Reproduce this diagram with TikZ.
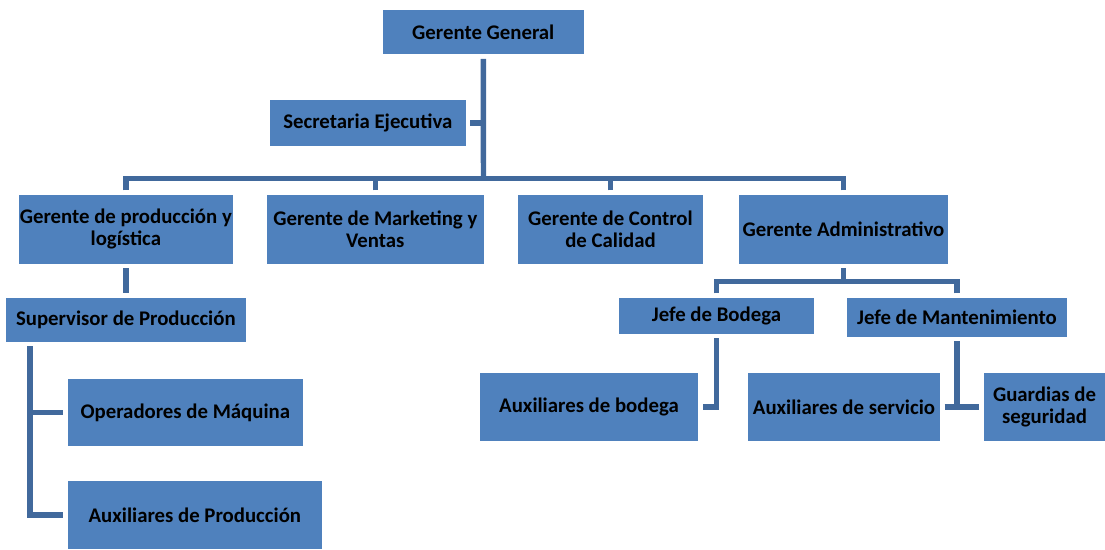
\documentclass[tikz,border=0pt]{standalone}
\usepackage{fontspec}
\setmainfont{Carlito}
\definecolor{boxblue}{HTML}{4F81BD}
\definecolor{linkblue}{HTML}{41699C}
\newcommand\orgbox[6]{%
  \node[box, minimum width={0.75pt*(#4-#2)}, minimum height={0.75pt*(#5-#3)}]
    (#1) at ({(#2+#4)/2},{(#3+#5)/2}) {#6};}
\begin{document}
\begin{tikzpicture}[x=0.75pt,y=-0.75pt,
  box/.style={fill=boxblue, inner sep=0pt, outer sep=0pt, align=center,
    font=\fontsize{15.6}{16.5}\selectfont\bfseries, text=black},
  conn/.style={draw=linkblue, line width=4.1pt},
  gapstart/.style={shorten <=3.5pt},
  gapend/.style={shorten >=3.5pt},
]
\useasboundingbox (0,0) rectangle (1105,549);

% boxes
\orgbox{gg}{383}{10}{583.6}{54.3}{Gerente General}
\orgbox{se}{270}{100}{465.7}{145.7}{Secretaria Ejecutiva}
\orgbox{gp}{19}{195}{232.7}{263.7}{Gerente de producción y\\logística}
\orgbox{gm}{267}{195}{483.7}{263.7}{Gerente de Marketing y\\Ventas}
\orgbox{gc}{518}{195}{703}{263.7}{Gerente de Control\\de Calidad}
\orgbox{ga}{739}{195}{948}{263.7}{Gerente Administrativo}
\orgbox{sp}{6}{298}{245.7}{341.7}{Supervisor de Producción}
\orgbox{op}{68}{379}{302.7}{445.7}{Operadores de Máquina}
\orgbox{ap}{68}{481}{321.7}{549}{Auxiliares de Producción}
\orgbox{jb}{619}{298}{814}{333.7}{Jefe de Bodega}
\orgbox{jm}{847}{298}{1067}{336.7}{Jefe de Mantenimiento}
\orgbox{ab}{480}{373}{698}{440.7}{Auxiliares de bodega}
\orgbox{as}{748}{373}{940}{440.7}{Auxiliares de servicio}
\orgbox{gs}{984}{373}{1105}{440.7}{Guardias de\\seguridad}

% bus coordinates
\coordinate (bus) at (483.5,178.5);
\coordinate (bus2) at (843.5,281.5);

% connectors
\draw[conn, gapstart] (gg.south) -- (bus);
\draw[conn, gapstart] (se.east) -- (se.east -| gg.south);
\foreach \n in {gp,gm,gc,ga}
  \draw[conn, gapstart] (\n.north) |- (bus);
\draw[conn, gapstart, gapend] (gp.south) -- (sp.north);
\draw[conn, gapstart, gapend] ([xshift=18pt]sp.south west) |- (op.west);
\draw[conn, gapstart, gapend] ([xshift=18pt]sp.south west) |- (ap.west);
\draw[conn, gapstart] (ga.south) -- (bus2);
\draw[conn, gapstart] (jb.north) |- (bus2);
\draw[conn, gapstart] (jm.north) |- (bus2);
\draw[conn, gapstart, gapend] (jb.south) |- (ab.east);
\draw[conn, gapstart] (jm.south) -- (jm.south |- as.east);
\draw[conn, gapstart, gapend] (as.east) -- (gs.west);
\end{tikzpicture}
\end{document}
